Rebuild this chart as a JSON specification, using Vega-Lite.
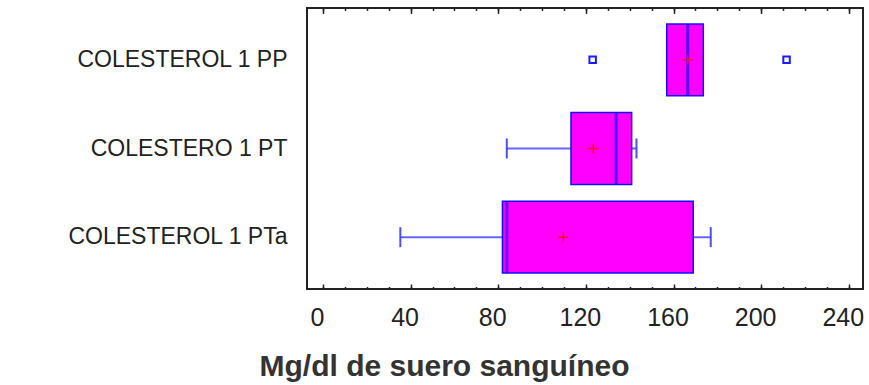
{
  "$schema": "https://vega.github.io/schema/vega-lite/v6.json",
  "width": 556,
  "height": 281,
  "autosize": "none",
  "padding": {"left": 307, "top": 8, "right": 6, "bottom": 96},
  "background": "white",
  "config": {
    "view": {"stroke": "#222", "strokeWidth": 2},
    "font": "Liberation Sans"
  },
  "datasets": {
    "stats": [
      {"grupo": "COLESTEROL 1 PP", "lo": 156.9, "q1": 156.9, "median": 166.5, "mean": 166.5, "q3": 173.6, "hi": 173.6},
      {"grupo": "COLESTERO 1 PT", "lo": 83.9, "q1": 113.2, "median": 133.8, "mean": 123.4, "q3": 140.9, "hi": 143.1},
      {"grupo": "COLESTEROL 1 PTa", "lo": 35.3, "q1": 81.9, "median": 83.9, "mean": 109.7, "q3": 169.0, "hi": 177.0}
    ],
    "outliers": [
      {"grupo": "COLESTEROL 1 PP", "value": 123.1},
      {"grupo": "COLESTEROL 1 PP", "value": 211.6}
    ]
  },
  "data": {"name": "stats"},
  "resolve": {"axis": {"x": "independent"}},
  "layer": [
    {
      "mark": {"type": "rule", "color": "#4a4aff", "strokeWidth": 2, "opacity": 0.85},
      "encoding": {
        "x": {"field": "lo", "type": "quantitative", "scale": {"domain": [-7.3, 246.5], "nice": false, "zero": false},
              "axis": {"orient": "bottom", "values": [0, 40, 80, 120, 160, 200, 240], "labels": false, "domain": false, "grid": false, "tickSize": -5, "tickWidth": 1.5, "tickColor": "#222", "title": null}},
        "x2": {"field": "hi"},
        "y": {"field": "grupo", "type": "nominal", "sort": ["COLESTEROL 1 PP", "COLESTERO 1 PT", "COLESTEROL 1 PTa"],
              "scale": {"paddingInner": 0.19, "paddingOuter": 0.18},
              "axis": {"title": null, "domain": false, "ticks": false, "labelFontSize": 23, "labelLimit": 400, "labelPadding": 20, "labelColor": "#222", "labelFont": "Liberation Sans"}}
      }
    },
    {
      "transform": [{"filter": "datum.lo < datum.q1"}],
      "mark": {"type": "tick", "color": "#3a3aff", "size": 20, "thickness": 2, "opacity": 0.9},
      "encoding": {
        "x": {"field": "lo", "type": "quantitative",
              "axis": {"orient": "bottom", "values": [0, 10, 20, 30, 40, 50, 60, 70, 80, 90, 100, 110, 120, 130, 140, 150, 160, 170, 180, 190, 200, 210, 220, 230, 240], "labels": false, "domain": false, "grid": false, "tickSize": -2.5, "tickWidth": 1.5, "tickColor": "#222", "title": null}},
        "y": {"field": "grupo", "type": "nominal", "sort": ["COLESTEROL 1 PP", "COLESTERO 1 PT", "COLESTEROL 1 PTa"],
              "axis": {"title": null, "domain": false, "ticks": false, "labelFontSize": 23, "labelLimit": 400, "labelPadding": 20, "labelColor": "#222", "labelFont": "Liberation Sans"}}
      }
    },
    {
      "transform": [{"filter": "datum.hi > datum.q3"}],
      "mark": {"type": "tick", "color": "#3a3aff", "size": 20, "thickness": 2, "opacity": 0.9},
      "encoding": {
        "x": {"field": "hi", "type": "quantitative",
              "axis": {"orient": "top", "values": [0, 40, 80, 120, 160, 200, 240], "labels": false, "domain": false, "grid": false, "tickSize": -5.5, "tickWidth": 1.5, "tickColor": "#222", "title": null}},
        "y": {"field": "grupo", "type": "nominal", "sort": ["COLESTEROL 1 PP", "COLESTERO 1 PT", "COLESTEROL 1 PTa"],
              "axis": {"title": null, "domain": false, "ticks": false, "labelFontSize": 23, "labelLimit": 400, "labelPadding": 20, "labelColor": "#222", "labelFont": "Liberation Sans"}}
      }
    },
    {
      "mark": {"type": "bar", "fill": "#ff00ff", "stroke": "#1010ff", "strokeWidth": 1.5},
      "encoding": {
        "x": {"field": "q1", "type": "quantitative",
              "axis": {"orient": "top", "values": [0, 10, 20, 30, 40, 50, 60, 70, 80, 90, 100, 110, 120, 130, 140, 150, 160, 170, 180, 190, 200, 210, 220, 230, 240], "labels": false, "domain": false, "grid": false, "tickSize": -2.5, "tickWidth": 1.5, "tickColor": "#222", "title": null}},
        "x2": {"field": "q3"},
        "y": {"field": "grupo", "type": "nominal", "sort": ["COLESTEROL 1 PP", "COLESTERO 1 PT", "COLESTEROL 1 PTa"],
              "axis": {"title": null, "domain": false, "ticks": false, "labelFontSize": 23, "labelLimit": 400, "labelPadding": 20, "labelColor": "#222", "labelFont": "Liberation Sans"}}
      }
    },
    {
      "mark": {"type": "tick", "color": "#1010ff", "size": 72, "thickness": 3},
      "encoding": {
        "x": {"field": "median", "type": "quantitative",
              "axis": {"orient": "bottom", "values": [0, 40, 80, 120, 160, 200, 240], "ticks": false, "domain": false, "grid": false, "labelFontSize": 25, "labelColor": "#222", "labelPadding": 16, "labelOffset": -6, "labelFont": "Liberation Sans",
                       "title": "Mg/dl de suero sanguíneo", "titleFontSize": 30, "titleFontWeight": "bold", "titleColor": "#333", "titleFont": "Liberation Sans", "titleX": 137, "titleY": 86, "titleAlign": "center", "titleBaseline": "alphabetic", "titleAnchor": null}},
        "y": {"field": "grupo", "type": "nominal", "sort": ["COLESTEROL 1 PP", "COLESTERO 1 PT", "COLESTEROL 1 PTa"],
              "axis": {"title": null, "domain": false, "ticks": false, "labelFontSize": 23, "labelLimit": 400, "labelPadding": 20, "labelColor": "#222", "labelFont": "Liberation Sans"}}
      }
    },
    {
      "mark": {"type": "point", "shape": "M-1,0L1,0M0,-1L0,1", "size": 100, "filled": false, "stroke": "#ff1010", "strokeWidth": 1.5, "opacity": 1},
      "encoding": {
        "x": {"field": "mean", "type": "quantitative", "axis": null},
        "y": {"field": "grupo", "type": "nominal", "sort": ["COLESTEROL 1 PP", "COLESTERO 1 PT", "COLESTEROL 1 PTa"],
              "axis": {"title": null, "domain": false, "ticks": false, "labelFontSize": 23, "labelLimit": 400, "labelPadding": 20, "labelColor": "#222", "labelFont": "Liberation Sans"}}
      }
    },
    {
      "data": {"name": "outliers"},
      "mark": {"type": "point", "shape": "square", "size": 42, "filled": false, "fill": "white", "stroke": "#1a1aff", "strokeWidth": 2, "opacity": 1},
      "encoding": {
        "x": {"field": "value", "type": "quantitative", "axis": null},
        "y": {"field": "grupo", "type": "nominal", "sort": ["COLESTEROL 1 PP", "COLESTERO 1 PT", "COLESTEROL 1 PTa"],
              "axis": {"title": null, "domain": false, "ticks": false, "labelFontSize": 23, "labelLimit": 400, "labelPadding": 20, "labelColor": "#222", "labelFont": "Liberation Sans"}}
      }
    }
  ]
}
